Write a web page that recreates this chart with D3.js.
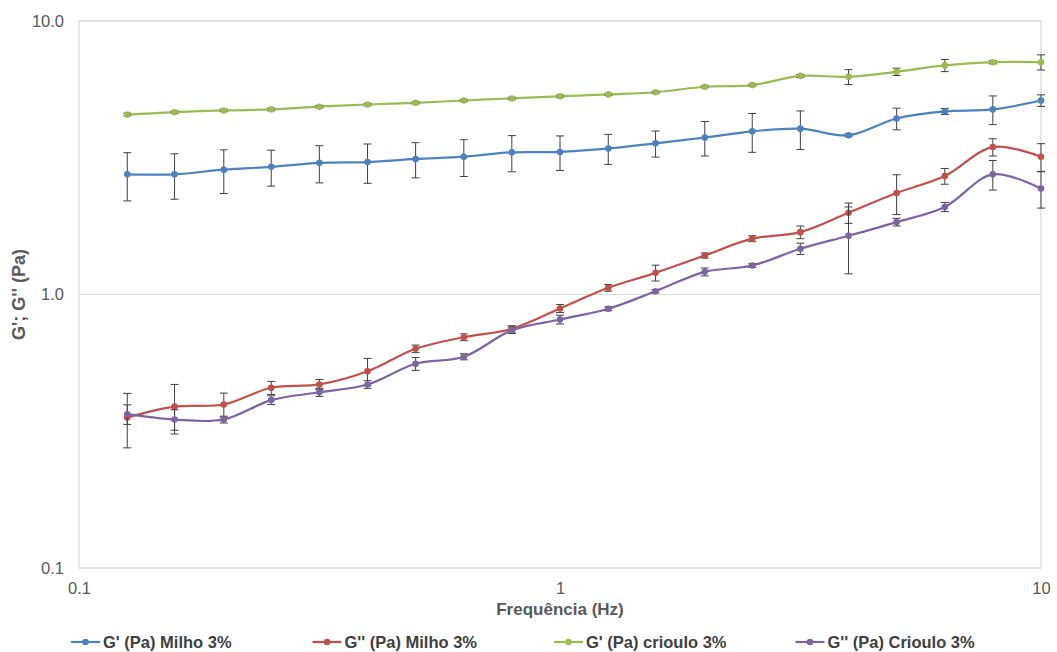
<!DOCTYPE html>
<html>
<head>
<meta charset="utf-8">
<script src="https://cdn.jsdelivr.net/npm/d3@7/dist/d3.min.js"></script>
<style>
  html, body { margin: 0; padding: 0; background: #fff; }
  svg { display: block; font-family: "Liberation Sans", Arial, sans-serif; }
</style>
</head>
<body>
<svg id="chart" width="1057" height="652"></svg>
<script>
// Frequency sweep (Hz)
const freq = [0.126, 0.158, 0.200, 0.251, 0.316, 0.398, 0.501, 0.631, 0.794, 1.00,
              1.26, 1.58, 2.00, 2.51, 3.16, 3.98, 5.01, 6.31, 7.94, 10.0];

// G' Milho 3%
const gpMilho    = [2.75, 2.75, 2.86, 2.93, 3.03, 3.05, 3.13, 3.19, 3.31, 3.32,
                    3.42, 3.57, 3.75, 3.95, 4.04, 3.82, 4.40, 4.67, 4.75, 5.12];
const gpMilhoErr = [0.55, 0.52, 0.52, 0.44, 0.47, 0.50, 0.46, 0.49, 0.50, 0.48,
                    0.43, 0.39, 0.54, 0.64, 0.65, 0.05, 0.40, 0.12, 0.57, 0.25];

// G'' Milho 3%
const gppMilho    = [0.355, 0.389, 0.396, 0.456, 0.469, 0.524, 0.633, 0.698, 0.749, 0.889,
                     1.058, 1.20, 1.389, 1.60, 1.69, 1.99, 2.35, 2.71, 3.46, 3.19];
const gppMilhoErr = [0.08, 0.08, 0.04, 0.025, 0.02, 0.06, 0.02, 0.02, 0.02, 0.03,
                     0.03, 0.08, 0.03, 0.04, 0.09, 0.17, 0.39, 0.18, 0.25, 0.37];

// G' crioulo 3%
const gpCrioulo    = [4.55, 4.64, 4.71, 4.75, 4.86, 4.95, 5.02, 5.12, 5.21, 5.31,
                      5.39, 5.49, 5.75, 5.83, 6.30, 6.25, 6.52, 6.88, 7.07, 7.07];
const gpCriouloErr = [0.05, 0.05, 0.05, 0.05, 0.05, 0.05, 0.05, 0.05, 0.05, 0.05,
                      0.05, 0.05, 0.05, 0.05, 0.08, 0.39, 0.20, 0.35, 0.10, 0.45];

// G'' Crioulo 3%
const gppCrioulo    = [0.365, 0.349, 0.349, 0.411, 0.439, 0.469, 0.558, 0.592, 0.740, 0.810,
                       0.887, 1.028, 1.21, 1.276, 1.47, 1.64, 1.84, 2.09, 2.75, 2.44];
const gppCriouloErr = [0.03, 0.03, 0.01, 0.015, 0.015, 0.015, 0.03, 0.015, 0.02, 0.03,
                       0.015, 0.015, 0.04, 0.02, 0.07, 0.45, 0.06, 0.08, 0.34, 0.37];

const seriesNames  = ["G' (Pa) Milho 3%", "G'' (Pa) Milho 3%", "G' (Pa) crioulo 3%", "G'' (Pa) Crioulo 3%"];
const seriesColors = ["#4f81bd", "#c0504d", "#9bbb59", "#8064a2"];

const xTicks = [0.1, 1, 10];
const yTicks = [0.1, 1, 10];
const xTitle = "Frequência (Hz)";
const yTitle = "G'; G'' (Pa)";

const series = [
  { name: seriesNames[0], color: seriesColors[0], values: gpMilho,    errors: gpMilhoErr },
  { name: seriesNames[1], color: seriesColors[1], values: gppMilho,   errors: gppMilhoErr },
  { name: seriesNames[2], color: seriesColors[2], values: gpCrioulo,  errors: gpCriouloErr },
  { name: seriesNames[3], color: seriesColors[3], values: gppCrioulo, errors: gppCriouloErr }
];

const svg = d3.select("#chart");
const plot = { left: 79, right: 1041, top: 21, bottom: 568 };

const x = d3.scaleLog().domain([0.1, 10]).range([plot.left, plot.right]);
const y = d3.scaleLog().domain([0.1, 10]).range([plot.bottom, plot.top]);

// plot frame and horizontal gridlines
svg.append("rect")
  .attr("x", plot.left).attr("y", plot.top)
  .attr("width", plot.right - plot.left).attr("height", plot.bottom - plot.top)
  .attr("fill", "none").attr("stroke", "#d9d9d9").attr("stroke-width", 1.2);

svg.append("g").selectAll("line").data(yTicks).join("line")
  .attr("x1", plot.left).attr("x2", plot.right)
  .attr("y1", d => y(d)).attr("y2", d => y(d))
  .attr("stroke", "#d9d9d9").attr("stroke-width", 1.2);

// axes
const yAxis = d3.axisLeft(y).tickValues(yTicks).tickFormat(d3.format(".1f")).tickSize(0).tickPadding(15);
const gy = svg.append("g").attr("transform", `translate(${plot.left},0)`).call(yAxis);
gy.select(".domain").remove();
gy.selectAll("text").attr("font-size", 16.5).attr("fill", "#595959")
  .attr("font-family", "'Liberation Sans', Arial, sans-serif");

const xAxis = d3.axisBottom(x).tickValues(xTicks).tickFormat(d => String(d)).tickSize(0).tickPadding(14);
const gx = svg.append("g").attr("transform", `translate(0,${plot.bottom})`).call(xAxis);
gx.select(".domain").remove();
gx.selectAll("text").attr("font-size", 16.5).attr("fill", "#595959")
  .attr("font-family", "'Liberation Sans', Arial, sans-serif");

// axis titles
svg.append("text")
  .attr("x", (plot.left + plot.right) / 2).attr("y", 615)
  .attr("text-anchor", "middle").attr("font-size", 17).attr("font-weight", "bold")
  .attr("fill", "#595959").text(xTitle);

svg.append("text")
  .attr("transform", `translate(25,${(plot.top + plot.bottom) / 2}) rotate(-90)`)
  .attr("text-anchor", "middle").attr("font-size", 18).attr("font-weight", "bold")
  .attr("fill", "#595959").text(yTitle);

// series: smoothed lines, error bars, markers
const line = d3.line()
  .x((d, i) => x(freq[i]))
  .y(d => y(d))
  .curve(d3.curveCatmullRom.alpha(0.5));

const layers = svg.append("g").selectAll("g").data(series).join("g");

layers.append("path")
  .attr("d", s => line(s.values))
  .attr("fill", "none")
  .attr("stroke", s => s.color)
  .attr("stroke-width", 2.2);

layers.each(function (s) {
  const g = d3.select(this);
  const bars = s.values.map((v, i) => ({ f: freq[i], lo: v - s.errors[i], hi: v + s.errors[i] }));
  const eb = g.append("g").attr("stroke", "#404040").attr("stroke-width", 1);
  eb.selectAll("line.stem").data(bars).join("line").attr("class", "stem")
    .attr("x1", d => x(d.f)).attr("x2", d => x(d.f))
    .attr("y1", d => y(d.lo)).attr("y2", d => y(d.hi));
  eb.selectAll("line.capHi").data(bars).join("line").attr("class", "capHi")
    .attr("x1", d => x(d.f) - 4).attr("x2", d => x(d.f) + 4)
    .attr("y1", d => y(d.hi)).attr("y2", d => y(d.hi));
  eb.selectAll("line.capLo").data(bars).join("line").attr("class", "capLo")
    .attr("x1", d => x(d.f) - 4).attr("x2", d => x(d.f) + 4)
    .attr("y1", d => y(d.lo)).attr("y2", d => y(d.lo));
  g.selectAll("circle").data(s.values).join("circle")
    .attr("cx", (d, i) => x(freq[i])).attr("cy", d => y(d))
    .attr("r", 3.3).attr("fill", s.color);
});

// legend
const legendX = d3.scaleBand().domain(seriesNames).range([71, 1037]);
const legend = svg.append("g").selectAll("g").data(series).join("g")
  .attr("transform", s => `translate(${legendX(s.name)},642)`);
legend.append("line").attr("x1", 0).attr("x2", 29).attr("y1", 0).attr("y2", 0)
  .attr("stroke", s => s.color).attr("stroke-width", 2.2);
legend.append("circle").attr("cx", 14.5).attr("cy", 0).attr("r", 3.3).attr("fill", s => s.color);
legend.append("text").attr("x", 32).attr("y", 0).attr("dy", "0.35em")
  .attr("font-size", 16.5).attr("font-weight", "bold").attr("fill", "#404040")
  .text(s => s.name);
</script>
</body>
</html>
